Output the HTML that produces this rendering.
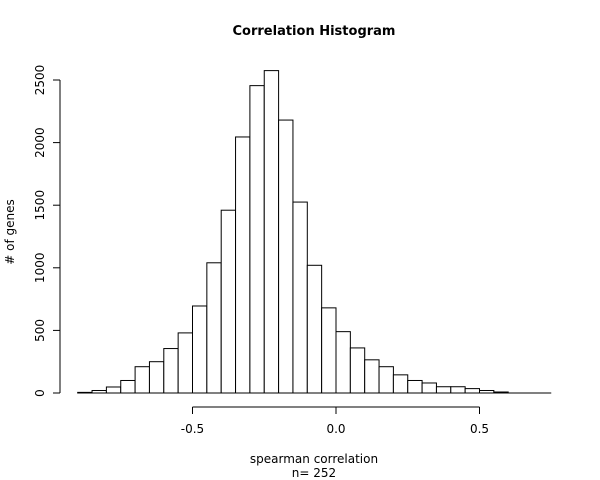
<!DOCTYPE html>
<html><head><meta charset="utf-8"><style>
body{margin:0;background:#fff}
svg{display:block;font-family:"DejaVu Sans","Liberation Sans",sans-serif}
</style></head><body>
<svg id="c" width="600" height="480">
<text x="314" y="35" text-anchor="middle" font-weight="bold" font-size="13">Correlation Histogram</text>
<text x="314" y="463" text-anchor="middle" font-size="12">spearman correlation</text>
<text x="314" y="477" text-anchor="middle" font-size="12">n= 252</text>
<text transform="translate(14,232) rotate(-90)" text-anchor="middle" font-size="12"># of genes</text>
<g id="bars"></g>
<g id="axes"></g>
</svg>
<script>
const binStart = -0.9;
const binWidth = 0.05;
const counts = [5,20,48,100,210,250,355,480,695,1040,1460,2045,2455,2575,2180,1525,1020,680,490,360,265,210,145,100,80,50,50,35,20,8];
const xTicks = [-0.5, 0.0, 0.5];
const xTickLabels = ["-0.5","0.0","0.5"];
const yTicks = [0,500,1000,1500,2000,2500];
const yTickLabels = ["0","500","1000","1500","2000","2500"];
const xDomainMax = 0.75;

const NS="http://www.w3.org/2000/svg";
const xs = v => 336 + 287*v;
const ys = v => 393 - 0.1252*v;
function mk(tag, attrs, parent){const e=document.createElementNS(NS,tag);for(const k in attrs)e.setAttribute(k,attrs[k]);parent.appendChild(e);return e;}
const bars=document.getElementById('bars'), axes=document.getElementById('axes');
counts.forEach((c,i)=>{
  const x0=xs(binStart+i*binWidth), x1=xs(binStart+(i+1)*binWidth);
  const r=mk('rect',{x:x0,y:ys(c),width:x1-x0,height:ys(0)-ys(c),fill:'#fff',stroke:'#000','stroke-width':1},bars);
  
  
});
const base=mk('line',{x1:xs(binStart),x2:xs(xDomainMax),y1:ys(0),y2:ys(0),stroke:'#000'},axes);


// x axis
const xa=mk('line',{x1:xs(xTicks[0]),x2:xs(xTicks[xTicks.length-1]),y1:407,y2:407,stroke:'#000'},axes);


xTicks.forEach((t,i)=>{
  mk('line',{x1:xs(t),x2:xs(t),y1:407,y2:414,stroke:'#000'},axes);
  const tx=mk('text',{x:xs(t),y:433,'text-anchor':'middle','font-size':12},axes);
  tx.textContent=xTickLabels[i];
  
  
});
// y axis
const ya=mk('line',{x1:60,x2:60,y1:ys(yTicks[0]),y2:ys(yTicks[yTicks.length-1]),stroke:'#000'},axes);


yTicks.forEach((t,i)=>{
  mk('line',{x1:53,x2:60,y1:ys(t),y2:ys(t),stroke:'#000'},axes);
  const tx=mk('text',{transform:`translate(44,${ys(t)}) rotate(-90)`,'text-anchor':'middle','font-size':12},axes);
  tx.textContent=yTickLabels[i];
  
  
});
</script>
</body></html>
